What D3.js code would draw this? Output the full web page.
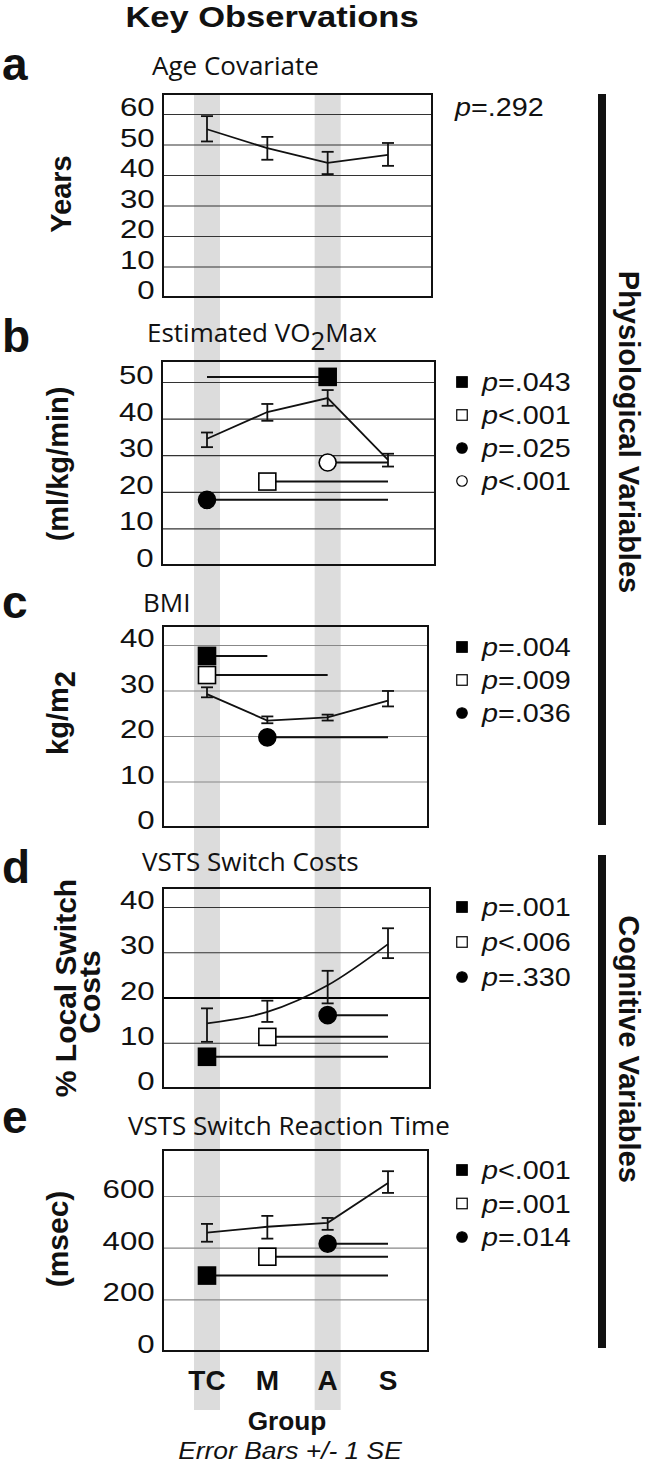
<!DOCTYPE html>
<html>
<head>
<meta charset="utf-8">
<script src="https://cdn.jsdelivr.net/npm/d3@7"></script>
<style>
  body { margin: 0; background: #fff; }
  svg { display: block; }
</style>
</head>
<body>
<script>
// groups on the x axis
var groups = ["TC", "M", "A", "S"]

// a - age
var ageTicks = [0, 10, 20, 30, 40, 50, 60]
var ageMean = [55, 48.8, 44, 46.6]
var ageLo = [51, 45, 40.3, 43]
var ageHi = [59.3, 52.5, 47.6, 50.5]

// b - VO2max
var vo2Ticks = [0, 10, 20, 30, 40, 50]
var vo2Mean = [34.5, 41.8, 45.6, 28.7]
var vo2Lo = [32.2, 39.4, 43.5, 26.9]
var vo2Hi = [36.2, 44, 47.8, 30.4]
var vo2Sig = [
  {shape: "square", filled: true, from: "A", to: "TC", value: 51.4},
  {shape: "square", filled: false, from: "M", to: "S", value: 22.8},
  {shape: "circle", filled: true, from: "TC", to: "S", value: 17.8},
  {shape: "circle", filled: false, from: "A", to: "S", value: 28}
]
var vo2P = ["=.043", "<.001", "=.025", "<.001"]

// c - BMI
var bmiTicks = [0, 10, 20, 30, 40]
var bmiMean = [29.2, 23.4, 24.1, 27.8]
var bmiLo = [28.5, 22.8, 23.4, 26.5]
var bmiHi = [30.7, 24.3, 24.7, 29.9]
var bmiSig = [
  {shape: "square", filled: true, from: "TC", to: "M", value: 37.6},
  {shape: "square", filled: false, from: "TC", to: "A", value: 33.4},
  {shape: "circle", filled: true, from: "M", to: "S", value: 19.7}
]
var bmiP = ["=.004", "=.009", "=.036"]

// d - switch costs
var costTicks = [0, 10, 20, 30, 40]
var costMean = [14.3, 16.8, 22.7, 31.8]
var costLo = [10.2, 14.6, 18.7, 28.7]
var costHi = [17.6, 19.3, 25.9, 35.3]
var costSig = [
  {shape: "square", filled: true, from: "TC", to: "S", value: 6.9},
  {shape: "square", filled: false, from: "M", to: "S", value: 11.3},
  {shape: "circle", filled: true, from: "A", to: "S", value: 16.1}
]
var costP = ["=.001", "<.006", "=.330"]

// e - switch RT
var rtTicks = [0, 200, 400, 600]
var rtMean = [458, 481, 496, 650]
var rtLo = [423, 435, 469, 612]
var rtHi = [492, 523, 515, 696]
var rtSig = [
  {shape: "square", filled: true, from: "TC", to: "S", value: 292},
  {shape: "square", filled: false, from: "M", to: "S", value: 365},
  {shape: "circle", filled: true, from: "A", to: "S", value: 415}
]
var rtP = ["<.001", "=.001", "=.014"]

var W = 649, H = 1467
var sans = "'Liberation Sans', Arial, sans-serif"
var titleFont = "'Open Sans', sans-serif"

var svg = d3.select("body").append("svg").attr("width", W).attr("height", H)

var x = d3.scalePoint().domain(groups).range([207, 388])

// grey columns behind TC and A
svg.selectAll("rect.shade").data(["TC", "A"]).enter().append("rect")
  .attr("class", "shade")
  .attr("x", function(d){ return x(d) - 13 })
  .attr("width", 26)
  .attr("y", 94).attr("height", 1410 - 94)
  .attr("fill", "#dcdcdc")

function stretchText(parent, px, py, str, size, opts){
  opts = opts || {}
  var t = parent.append("text")
    .attr("transform", "translate(" + px + "," + py + ") scale(" + (opts.sx || 1) + ",1)")
    .attr("font-family", opts.family || sans)
    .attr("font-size", size)
    .attr("font-weight", opts.weight || "normal")
    .attr("font-style", opts.style || "normal")
    .attr("text-anchor", opts.anchor || "start")
    .attr("fill", "#111")
  if(str != null) t.text(str)
  return t
}

function rotText(px, py, angle, str, size){
  return svg.append("text")
    .attr("transform", "translate(" + px + "," + py + ") rotate(" + angle + ")")
    .attr("font-family", sans).attr("font-size", size).attr("font-weight", "bold")
    .attr("text-anchor", "middle").attr("fill", "#111")
    .text(str)
}

function panel(cfg){
  var g = svg.append("g")
  var y = d3.scaleLinear().domain([0, cfg.ticks[cfg.ticks.length - 1]]).range([cfg.bottom, cfg.gridTop])

  var axis = d3.axisLeft(y).tickValues(cfg.ticks)
    .tickSize(-(cfg.right - cfg.left)).tickPadding(0).tickFormat(d3.format("d"))

  g.append("g").attr("transform", "translate(" + cfg.left + ",0)").call(axis)
    .call(function(a){ a.select(".domain").remove() })
    .call(function(a){
      a.selectAll(".tick line")
        .attr("stroke", function(d){ return d == cfg.thick ? "#000" : cfg.grid })
        .attr("stroke-width", function(d){ return d == cfg.thick ? 2.2 : 1.2 })
    })
    .call(function(a){
      a.selectAll(".tick text")
        .attr("x", -7).attr("dy", "0.06em")
        .attr("transform", "scale(1.2,1)")
        .attr("font-size", 26).attr("font-family", sans).attr("fill", "#111")
    })

  // frame
  g.append("rect")
    .attr("x", cfg.left).attr("y", cfg.top)
    .attr("width", cfg.right - cfg.left).attr("height", cfg.bottom - cfg.top)
    .attr("fill", "none").attr("stroke", "#111").attr("stroke-width", 2)

  // mean line
  var line = d3.line()
    .x(function(d, i){ return x(groups[i]) })
    .y(function(d){ return y(d) })
    .curve(cfg.curve || d3.curveLinear)
  g.append("path").datum(cfg.mean).attr("d", line)
    .attr("fill", "none").attr("stroke", "#111").attr("stroke-width", 1.8)

  // error bars
  var eb = g.selectAll("g.eb").data(groups).enter().append("g").attr("class", "eb")
  eb.append("line")
    .attr("x1", function(d){ return x(d) }).attr("x2", function(d){ return x(d) })
    .attr("y1", function(d, i){ return y(cfg.lo[i]) })
    .attr("y2", function(d, i){ return y(cfg.hi[i]) })
    .attr("stroke", "#111").attr("stroke-width", 1.8)
  ;["lo", "hi"].forEach(function(k){
    eb.append("line")
      .attr("x1", function(d){ return x(d) - 6 }).attr("x2", function(d){ return x(d) + 6 })
      .attr("y1", function(d, i){ return y(cfg[k][i]) })
      .attr("y2", function(d, i){ return y(cfg[k][i]) })
      .attr("stroke", "#111").attr("stroke-width", 1.8)
  })

  // significance markers
  var sig = cfg.sig || []
  g.selectAll("line.sig").data(sig).enter().append("line")
    .attr("class", "sig")
    .attr("x1", function(d){ return x(d.from) }).attr("x2", function(d){ return x(d.to) })
    .attr("y1", function(d){ return y(d.value) }).attr("y2", function(d){ return y(d.value) })
    .attr("stroke", "#111").attr("stroke-width", 2)
  sig.forEach(function(d){
    drawMark(g, x(d.from), y(d.value), d, 17)
  })

  // legend
  sig.forEach(function(d, i){
    var cy = cfg.legTop + i * cfg.legStep
    drawMark(g, 462, cy, d, 10.5)
    var t = stretchText(g, 482, cy + 9, null, 25, {sx: 1.15})
    t.append("tspan").attr("font-style", "italic").text("p")
    t.append("tspan").text(cfg.p[i])
  })
  return g
}

function drawMark(g, cx, cy, d, size){
  if(d.shape == "square"){
    g.append("rect")
      .attr("x", cx - size / 2).attr("y", cy - size / 2)
      .attr("width", size).attr("height", size)
      .attr("fill", d.filled ? "#000" : "#fff")
      .attr("stroke", "#000").attr("stroke-width", size > 12 ? 1.6 : 1.2)
  }else{
    g.append("circle").attr("cx", cx).attr("cy", cy).attr("r", size / 2)
      .attr("fill", d.filled ? "#000" : "#fff")
      .attr("stroke", "#000").attr("stroke-width", size > 12 ? 1.6 : 1.2)
  }
}

panel({left: 163, right: 432, top: 94, bottom: 297, gridTop: 114, ticks: ageTicks,
  mean: ageMean, lo: ageLo, hi: ageHi, grid: "#333"})
panel({left: 162, right: 435, top: 361, bottom: 565, gridTop: 382, ticks: vo2Ticks,
  mean: vo2Mean, lo: vo2Lo, hi: vo2Hi, grid: "#333", sig: vo2Sig, p: vo2P, legTop: 382, legStep: 33})
panel({left: 163, right: 428, top: 626, bottom: 827, gridTop: 645, ticks: bmiTicks,
  mean: bmiMean, lo: bmiLo, hi: bmiHi, grid: "#888", sig: bmiSig, p: bmiP, legTop: 647, legStep: 33})
panel({left: 163, right: 430, top: 888, bottom: 1088, gridTop: 907, ticks: costTicks,
  mean: costMean, lo: costLo, hi: costHi, grid: "#333", thick: 20, curve: d3.curveMonotoneX,
  sig: costSig, p: costP, legTop: 907, legStep: 35})
panel({left: 163, right: 428, top: 1150, bottom: 1351, gridTop: 1196, ticks: rtTicks,
  mean: rtMean, lo: rtLo, hi: rtHi, grid: "#888", sig: rtSig, p: rtP, legTop: 1170, legStep: 33.5})

// p value for age
var pa = stretchText(svg, 455, 116, null, 25, {sx: 1.15})
pa.append("tspan").attr("font-style", "italic").text("p")
pa.append("tspan").text("=.292")

// header and panel letters
stretchText(svg, 272, 27, "Key Observations", 30, {weight: "bold", anchor: "middle", sx: 1.15})
var letters = [["a", 80], ["b", 352], ["c", 618], ["d", 883], ["e", 1133]]
letters.forEach(function(l){
  stretchText(svg, 2, l[1], l[0], 46, {weight: "bold"})
})

// panel titles
stretchText(svg, 152, 75, "Age Covariate", 26, {family: titleFont})
var vt = stretchText(svg, 147, 342, null, 26, {family: titleFont})
vt.append("tspan").text("Estimated VO")
vt.append("tspan").attr("dy", 8).text("2")
vt.append("tspan").attr("dy", -8).text("Max")
stretchText(svg, 143, 612, "BMI", 26, {family: titleFont})
stretchText(svg, 142, 871, "VSTS Switch Costs", 26, {family: titleFont})
stretchText(svg, 128, 1135, "VSTS Switch Reaction Time", 26, {family: titleFont})

// y axis titles
rotText(71, 194, -90, "Years", 29)
rotText(68, 464, -90, "(ml/kg/min)", 29)
var kg = rotText(68, 713, -90, null, 29)
kg.append("tspan").text("kg/m")
kg.append("tspan").attr("dy", 7).text("2")
rotText(76, 988, -90, "% Local Switch", 30)
rotText(100, 992, -90, "Costs", 30)
rotText(68, 1239, -90, "(msec)", 30)

// x labels
svg.selectAll("text.grp").data(groups).enter().append("text")
  .attr("class", "grp")
  .attr("x", function(d){ return x(d) }).attr("y", 1390)
  .attr("text-anchor", "middle").attr("font-family", sans)
  .attr("font-size", 28).attr("font-weight", "bold").attr("fill", "#111")
  .text(function(d){ return d })
stretchText(svg, 287, 1430, "Group", 25, {weight: "bold", anchor: "middle", sx: 1.05})
stretchText(svg, 290, 1459, "Error Bars +/- 1 SE", 24, {style: "italic", anchor: "middle", sx: 1.1})

// side brackets
svg.append("rect").attr("x", 598).attr("y", 94).attr("width", 8).attr("height", 825 - 94).attr("fill", "#111")
svg.append("rect").attr("x", 598).attr("y", 855).attr("width", 8).attr("height", 1348 - 855).attr("fill", "#111")
rotText(619, 432, 90, "Physiological Variables", 29)
rotText(619, 1049, 90, "Cognitive Variables", 29)
</script>
</body>
</html>
